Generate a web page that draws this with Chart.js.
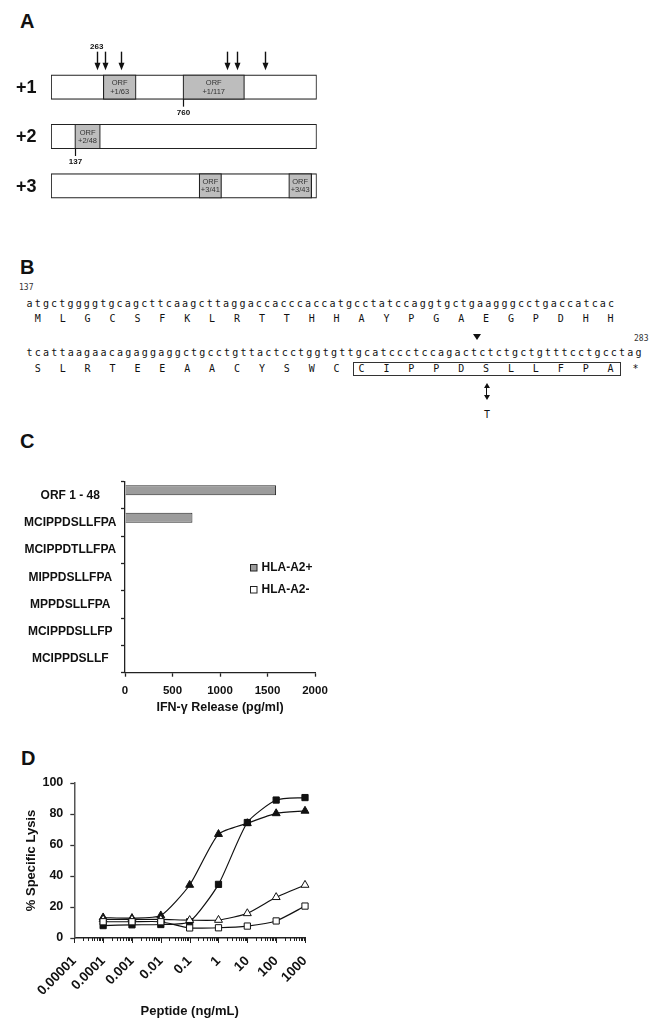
<!DOCTYPE html>
<html><head><meta charset="utf-8">
<script src="https://cdn.jsdelivr.net/npm/chart.js@4.4.1/dist/chart.umd.min.js"></script>
<style>
body{margin:0;background:#fff;width:667px;height:1029px;position:relative;overflow:hidden;font-family:'Liberation Sans',Arial,sans-serif;color:#111;}
.abs{position:absolute;}
.panel{font-weight:bold;font-size:20px;line-height:20px;}
.mono{font-family:'DejaVu Sans Mono',monospace;font-size:10px;line-height:10px;white-space:pre;color:#111;}
.small{font-family:'DejaVu Sans Mono',monospace;font-size:8px;line-height:8px;white-space:pre;color:#333;}
canvas{position:absolute;}
</style></head><body>
<div class="abs panel" style="left:20px;top:10.5px">A</div>
<div class="abs panel" style="left:20px;top:256.5px">B</div>
<div class="abs panel" style="left:20px;top:430.5px">C</div>
<div class="abs panel" style="left:21px;top:747.5px">D</div>

<canvas id="cA" width="340" height="230" style="left:0;top:0"></canvas>

<div id="startPos" class="abs small" style="left:19px;top:284px"></div>
<div id="nt1" class="abs mono" style="left:26.5px;top:298.5px;letter-spacing:2.17px"></div>
<div id="aa1" class="abs mono" style="left:26.5px;top:313.8px;letter-spacing:2.28px"></div>
<div id="endPos" class="abs small" style="left:634px;top:335px"></div>
<div class="abs" style="left:473px;top:334px;width:0;height:0;border-left:4px solid transparent;border-right:4px solid transparent;border-top:6px solid #111"></div>
<div id="nt2" class="abs mono" style="left:26.5px;top:348.2px;letter-spacing:2.21px"></div>
<div id="aa2" class="abs mono" style="left:26.5px;top:363.8px;letter-spacing:2.28px"></div>
<div class="abs" style="left:353px;top:361.5px;width:266px;height:12px;border:1px solid #333"></div>
<div class="abs" style="left:486px;top:386px;width:1px;height:11px;background:#111"></div>
<div class="abs" style="left:483.5px;top:383px;width:0;height:0;border-left:3px solid transparent;border-right:3px solid transparent;border-bottom:5px solid #111"></div>
<div class="abs" style="left:483.5px;top:395px;width:0;height:0;border-left:3px solid transparent;border-right:3px solid transparent;border-top:5px solid #111"></div>
<div id="mut" class="abs mono" style="left:484px;top:409.5px"></div>

<canvas id="cC" width="340" height="250" style="left:0;top:470px"></canvas>
<canvas id="cD" width="340" height="289" style="left:0;top:740px"></canvas>

<script>
// ---------- Panel A data ----------
const frames = ['+1', '+2', '+3'];
const transcriptLength = 1530;
const orfFirst = [[301, 490], [137, 284], [853, 982]];
const orfSecond = [[760, 1114], null, [1369, 1501]];
const orfFirstNames = ['+1/63', '+2/48', '+3/41'];
const orfSecondNames = ['+1/117', null, '+3/43'];
const arrowSites = [263, 312, 401, 1011, 1072, 1235];
const labelledArrow = 263;
const markedSites = [760, 137];
const markedFrames = [0, 1];

// ---------- Panel B text ----------
const seqStart = '137';
const seqEnd = '283';
const ntLine1 = 'atgctggggtgcagcttcaagcttaggaccacccaccatgcctatccaggtgctgaagggcctgaccatcac';
const aaLine1 = ['M','L','G','C','S','F','K','L','R','T','T','H','H','A','Y','P','G','A','E','G','P','D','H','H'];
const ntLine2 = 'tcattaagaacagaggaggctgcctgttactcctggtgttgcatccctccagactctctgctgtttcctgcctag';
const aaLine2 = ['S','L','R','T','E','E','A','A','C','Y','S','W','C','C','I','P','P','D','S','L','L','F','P','A','*'];
const mutation = 'T';

// ---------- Panel C data ----------
const peptides = ['ORF 1 - 48', 'MCIPPDSLLFPA', 'MCIPPDTLLFPA', 'MIPPDSLLFPA', 'MPPDSLLFPA', 'MCIPPDSLLFP', 'MCIPPDSLLF'];
const hlaA2Pos = [1590, 710, 0, 0, 0, 0, 0];
const hlaA2Neg = [0, 0, 0, 0, 0, 0, 0];
const releaseTicks = [0, 500, 1000, 1500, 2000];

// ---------- Panel D data ----------
const peptideConc = [0.0001, 0.001, 0.01, 0.1, 1, 10, 100, 1000];
const lysisFilledSquare = [8, 8.5, 8.7, 10.5, 34.6, 74.5, 89, 90.6];
const lysisFilledTriangle = [13.2, 12.8, 14.5, 34.2, 67, 74, 80.4, 82];
const lysisOpenTriangle = [12, 12, 12, 11.5, 11.6, 15.9, 26.3, 34.2];
const lysisOpenSquare = [10.5, 10.5, 10.5, 6.5, 6.6, 7.7, 11, 20.6];
const concTickLabels = ['0.00001', '0.0001', '0.001', '0.01', '0.1', '1', '10', '100', '1000'];
const lysisTicks = [0, 20, 40, 60, 80, 100];

// ---------- Panel B render ----------
document.getElementById('startPos').textContent = seqStart;
document.getElementById('endPos').textContent = seqEnd;
document.getElementById('nt1').textContent = ntLine1;
document.getElementById('nt2').textContent = ntLine2;
document.getElementById('aa1').textContent = aaLine1.map(a => ' ' + a + ' ').join('');
document.getElementById('aa2').textContent = aaLine2.map(a => ' ' + a + ' ').join('');
document.getElementById('mut').textContent = mutation;

const SANS = "'Liberation Sans', Arial, sans-serif";

// ---------- Panel A ----------
const panelAPlugin = {
  id: 'panelA',
  afterDatasetsDraw(chart) {
    const ctx = chart.ctx, xs = chart.scales.x, ys = chart.scales.y;
    ctx.save();
    ctx.fillStyle = '#111';
    ctx.font = 'bold 18px ' + SANS;
    ctx.textAlign = 'left'; ctx.textBaseline = 'middle';
    frames.forEach((f, i) => ctx.fillText(f, 16, ys.getPixelForValue(i) + 1));
    ctx.font = '7.5px ' + SANS;
    ctx.fillStyle = '#333';
    ctx.textAlign = 'center';
    [[0, orfFirstNames], [1, orfSecondNames]].forEach(([di, names]) => {
      const meta = chart.getDatasetMeta(di);
      meta.data.forEach((bar, i) => {
        if (!names[i]) return;
        const cx = (bar.x + bar.base) / 2;
        ctx.fillText('ORF', cx, bar.y - 4);
        ctx.fillText(names[i], cx, bar.y + 4.5);
      });
    });
    const tip = ys.getPixelForValue(0) - 17;
    ctx.strokeStyle = '#111'; ctx.fillStyle = '#111'; ctx.lineWidth = 1.4;
    arrowSites.forEach(s => {
      const x = Math.round(xs.getPixelForValue(s)) + 0.5;
      ctx.beginPath(); ctx.moveTo(x, tip - 18.5); ctx.lineTo(x, tip - 5); ctx.stroke();
      ctx.beginPath(); ctx.moveTo(x - 3, tip - 7.5); ctx.lineTo(x + 3, tip - 7.5); ctx.lineTo(x, tip); ctx.closePath(); ctx.fill();
    });
    ctx.font = 'bold 8px ' + SANS;
    ctx.fillText(String(labelledArrow), xs.getPixelForValue(labelledArrow), tip - 23);
    ctx.lineWidth = 1.2;
    markedSites.forEach((s, k) => {
      const x = Math.round(xs.getPixelForValue(s)) + 0.5;
      const yb = ys.getPixelForValue(markedFrames[k]) + 12;
      ctx.beginPath(); ctx.moveTo(x, yb); ctx.lineTo(x, yb + 7.5); ctx.stroke();
      ctx.fillText(String(s), x, yb + 13.5);
    });
    ctx.restore();
  }
};

new Chart(document.getElementById('cA'), {
  type: 'bar',
  data: {
    labels: frames,
    datasets: [
      { data: orfFirst, backgroundColor: '#bdbdbd', borderColor: '#222', borderWidth: 1.2, borderSkipped: false, grouped: false, barThickness: 24.5 },
      { data: orfSecond, backgroundColor: '#bdbdbd', borderColor: '#222', borderWidth: 1.2, borderSkipped: false, grouped: false, barThickness: 24.5 },
      { data: frames.map(() => [0, transcriptLength]), backgroundColor: '#fff', borderColor: '#222', borderWidth: 1.2, borderSkipped: false, grouped: false, barThickness: 24.5 }
    ]
  },
  options: {
    indexAxis: 'y', responsive: false, animation: false, devicePixelRatio: 1,
    layout: { padding: { left: 51, right: 23.3, top: 62.5, bottom: 19.5 } },
    plugins: { legend: { display: false }, tooltip: { enabled: false } },
    scales: {
      x: { type: 'linear', min: 0, max: transcriptLength, display: false },
      y: { display: false }
    }
  },
  plugins: [panelAPlugin]
});

// ---------- Panel C ----------
const legendCPlugin = {
  id: 'legendC',
  afterDraw(chart) {
    const ctx = chart.ctx;
    ctx.save();
    ctx.font = 'bold 12px ' + SANS;
    ctx.textBaseline = 'middle'; ctx.textAlign = 'left';
    chart.data.datasets.forEach((ds, i) => {
      const y = 94 + i * 22;
      ctx.fillStyle = ds.backgroundColor; ctx.strokeStyle = '#222'; ctx.lineWidth = 1;
      ctx.fillRect(250.5, y + 0.5, 6.5, 6.5); ctx.strokeRect(250.5, y + 0.5, 6.5, 6.5);
      ctx.fillStyle = '#111';
      ctx.fillText(ds.label, 261.5, y + 4);
    });
    ctx.restore();
  }
};

new Chart(document.getElementById('cC'), {
  type: 'bar',
  data: {
    labels: peptides,
    datasets: [
      { label: 'HLA-A2+', data: hlaA2Pos, backgroundColor: '#9c9c9c', borderColor: '#2a2a2a', borderWidth: 1, borderSkipped: 'start' },
      { label: 'HLA-A2-', data: hlaA2Neg, backgroundColor: '#ffffff', borderColor: '#2a2a2a', borderWidth: 0 }
    ]
  },
  options: {
    indexAxis: 'y', responsive: false, animation: false, devicePixelRatio: 1,
    categoryPercentage: 0.733, barPercentage: 1,
    layout: { padding: { left: 23, right: 25, top: 11.7, bottom: 0 } },
    plugins: { legend: { display: false }, tooltip: { enabled: false } },
    scales: {
      x: {
        min: 0, max: 2000,
        afterBuildTicks: s => { s.ticks = releaseTicks.map(v => ({ value: v })); },
        afterFit: s => { s.height = 47.3; },
        ticks: { font: { family: SANS, weight: 'bold', size: 11.5 }, color: '#111', padding: 7, maxRotation: 0, callback: v => String(v) },
        grid: { drawOnChartArea: false, tickLength: 4, color: '#222', tickWidth: 1.3 },
        border: { color: '#222', width: 1.3 },
        title: { display: true, text: 'IFN-γ Release (pg/ml)', font: { family: SANS, weight: 'bold', size: 12.5 }, color: '#111', padding: { top: 0, bottom: 5 } }
      },
      y: {
        afterFit: s => { s.width = 102; },
        ticks: { font: { family: SANS, weight: 'bold', size: 12 }, color: '#111', padding: 4.5, crossAlign: 'center' },
        grid: { drawOnChartArea: false, tickLength: 4, color: '#222', tickWidth: 1.3, offset: true },
        border: { color: '#222', width: 1.3 }
      }
    }
  },
  plugins: [legendCPlugin]
});

// ---------- Panel D ----------
const isDecade = v => Math.abs(Math.log10(v) - Math.round(Math.log10(v))) < 1e-9;
const logTicksPlugin = {
  id: 'logTicks',
  afterDraw(chart) {
    const xs = chart.scales.x, ctx = chart.ctx;
    ctx.save(); ctx.strokeStyle = '#222'; ctx.lineWidth = 1;
    xs.ticks.forEach(t => {
      const px = Math.round(xs.getPixelForValue(t.value)) + 0.5;
      const len = isDecade(t.value) ? 5 : 3;
      ctx.beginPath(); ctx.moveTo(px, xs.top); ctx.lineTo(px, xs.top + len); ctx.stroke();
    });
    ctx.restore();
  }
};

const mkSeries = (vals, style, fill) => ({
  data: peptideConc.map((x, i) => ({ x, y: vals[i] })),
  borderColor: '#111', borderWidth: 1.2, tension: 0.2, clip: false,
  pointStyle: style, pointRadius: style === 'rect' ? 4.4 : 4.6,
  pointBackgroundColor: fill, pointBorderColor: '#111', pointBorderWidth: 1
});

new Chart(document.getElementById('cD'), {
  type: 'line',
  data: {
    datasets: [
      mkSeries(lysisOpenSquare, 'rect', '#fff'),
      mkSeries(lysisOpenTriangle, 'triangle', '#fff'),
      mkSeries(lysisFilledSquare, 'rect', '#111'),
      mkSeries(lysisFilledTriangle, 'triangle', '#111')
    ]
  },
  options: {
    responsive: false, animation: false, devicePixelRatio: 1,
    layout: { padding: { left: 0, right: 35, top: 43, bottom: 0 } },
    plugins: { legend: { display: false }, tooltip: { enabled: false } },
    scales: {
      x: {
        type: 'logarithmic', min: 0.00001, max: 1000,
        afterBuildTicks: s => {
          const t = [];
          for (let e = -5; e <= 2; e++) for (let k = 1; k <= 9; k++) t.push({ value: Number((k * Math.pow(10, e)).toPrecision(6)) });
          t.push({ value: 1000 });
          s.ticks = t;
        },
        afterFit: s => { s.height = 91; },
        ticks: {
          autoSkip: false, minRotation: 45, maxRotation: 45, padding: 15,
          font: { family: SANS, weight: 'bold', size: 13.5 }, color: '#111',
          callback: v => isDecade(v) ? concTickLabels[Math.round(Math.log10(v)) + 5] : ''
        },
        grid: { drawOnChartArea: false, drawTicks: false },
        border: { color: '#222', width: 1.5 },
        title: { display: true, text: 'Peptide (ng/mL)', font: { family: SANS, weight: 'bold', size: 13 }, color: '#111', padding: { top: 0, bottom: 9.5 } }
      },
      y: {
        min: 0, max: 100,
        afterBuildTicks: s => { s.ticks = lysisTicks.map(v => ({ value: v })); },
        afterFit: s => { s.width = 74.3; },
        ticks: { font: { family: SANS, weight: 'bold', size: 12.5 }, color: '#111', padding: 7 },
        grid: { drawOnChartArea: false, tickLength: 4, color: '#333', tickWidth: 1.3 },
        border: { color: '#555', width: 1.5 },
        title: { display: true, text: '% Specific Lysis', font: { family: SANS, weight: 'bold', size: 13 }, color: '#111', padding: { top: 23.5, bottom: 0 } }
      }
    }
  },
  plugins: [logTicksPlugin]
});
</script>
</body></html>
